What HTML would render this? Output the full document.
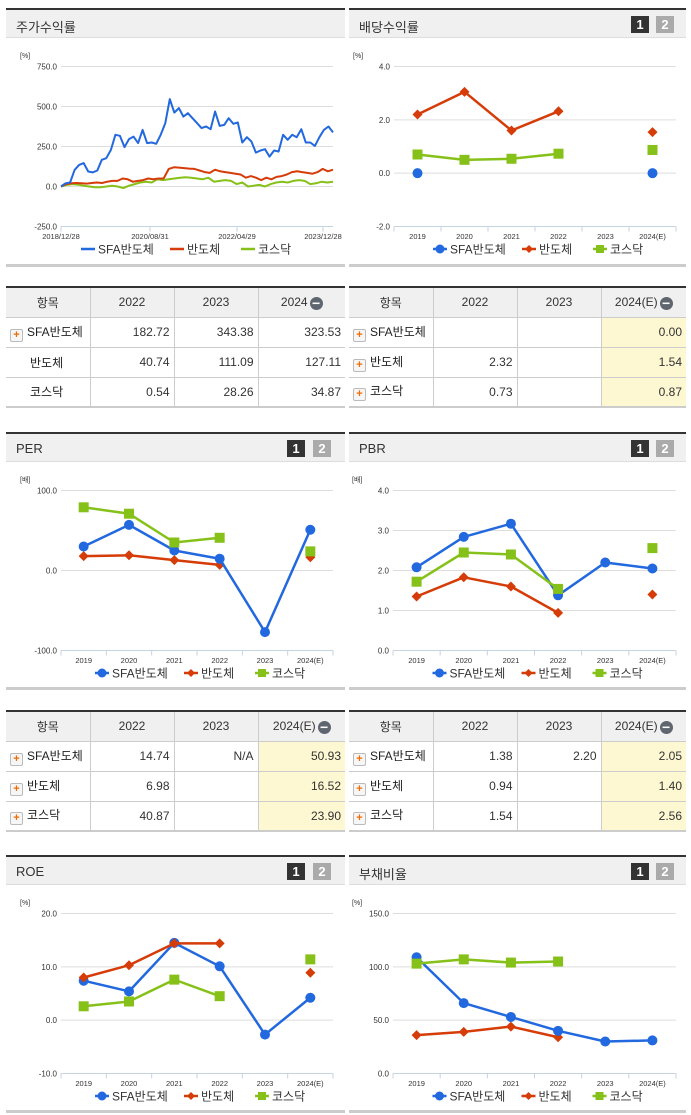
<!DOCTYPE html>
<html><head><meta charset="utf-8">
<style>
body{margin:0;width:691px;height:1115px;background:#fff;position:relative;overflow:hidden;font-family:"Liberation Sans","Noto Sans CJK KR",sans-serif;color:#222}
.hdr{position:absolute;height:30px;background:#f0f0f0;border-top:2px solid #333;border-bottom:1px solid #ddd;box-sizing:border-box}
.hdr .t{position:absolute;left:10px;top:7px;font-size:13px;color:#333}
.b1,.b2{position:absolute;top:6px;width:18px;height:17px;color:#fff;font-weight:bold;font-size:13px;text-align:center;line-height:17px}
.b1{background:#333}.b2{background:#aaa}
.bot{position:absolute;height:3px;background:#ccc}
table{position:absolute;border-collapse:collapse;font-size:12px;table-layout:fixed;border-top:2px solid #333;border-bottom:2px solid #ccc}
td,th{border:1px solid #ccc;height:30px;padding:0 4px;box-sizing:border-box}
tr td:first-child,tr th:first-child{border-left:none}
tr td:last-child,tr th:last-child{border-right:none}
th{background:#f0f0f0;font-weight:normal;color:#333;text-align:center}
td{text-align:right;color:#333}
td.n{text-align:left;color:#222}
.y{background:#fdf7d2}
.p{display:inline-block;width:11px;height:11px;border:1px solid #bbb;background:#f6f6f6;color:#f26a00;font-size:11px;line-height:10px;text-align:center;font-weight:bold;vertical-align:-2px;margin-right:4px;border-radius:2px}
.m{display:inline-block;width:13px;height:13px;border-radius:50%;background:#5f6670;color:#fff;line-height:12px;font-size:14px;font-weight:bold;vertical-align:-2px;margin-left:2px}
svg{position:absolute;left:0;top:0}
</style></head><body>

<div class="hdr" style="left:6px;top:8px;width:339px"><span class="t">주가수익률</span></div>
<div class="hdr" style="left:349px;top:8px;width:337px"><span class="t">배당수익률</span><span class="b1" style="left:282px">1</span><span class="b2" style="left:307px">2</span></div>
<div class="hdr" style="left:6px;top:432px;width:339px"><span class="t">PER</span><span class="b1" style="left:281px">1</span><span class="b2" style="left:307px">2</span></div>
<div class="hdr" style="left:349px;top:432px;width:337px"><span class="t">PBR</span><span class="b1" style="left:282px">1</span><span class="b2" style="left:307px">2</span></div>
<div class="hdr" style="left:6px;top:855px;width:339px"><span class="t">ROE</span><span class="b1" style="left:281px">1</span><span class="b2" style="left:307px">2</span></div>
<div class="hdr" style="left:349px;top:855px;width:337px"><span class="t">부채비율</span><span class="b1" style="left:282px">1</span><span class="b2" style="left:307px">2</span></div>

<div class="bot" style="left:6px;top:264px;width:339px"></div>
<div class="bot" style="left:349px;top:264px;width:337px"></div>
<div class="bot" style="left:6px;top:687px;width:339px"></div>
<div class="bot" style="left:349px;top:687px;width:337px"></div>
<div class="bot" style="left:6px;top:1110px;width:339px"></div>
<div class="bot" style="left:349px;top:1110px;width:337px"></div>

<table style="left:6px;top:286px;width:339px">
<colgroup><col style="width:84px"><col style="width:84px"><col style="width:84px"><col></colgroup>
<tr><th>항목</th><th>2022</th><th>2023</th><th>2024<span class="m">−</span></th></tr>
<tr><td class="n"><span class="p">+</span>SFA반도체</td><td>182.72</td><td>343.38</td><td>323.53</td></tr>
<tr><td class="n" style="padding-left:24px">반도체</td><td>40.74</td><td>111.09</td><td>127.11</td></tr>
<tr><td class="n" style="padding-left:24px">코스닥</td><td>0.54</td><td>28.26</td><td>34.87</td></tr>
</table>
<table style="left:349px;top:286px;width:337px">
<colgroup><col style="width:84px"><col style="width:84px"><col style="width:84px"><col></colgroup>
<tr><th>항목</th><th>2022</th><th>2023</th><th>2024(E)<span class="m">−</span></th></tr>
<tr><td class="n"><span class="p">+</span>SFA반도체</td><td></td><td></td><td class="y">0.00</td></tr>
<tr><td class="n"><span class="p">+</span>반도체</td><td>2.32</td><td></td><td class="y">1.54</td></tr>
<tr><td class="n"><span class="p">+</span>코스닥</td><td>0.73</td><td></td><td class="y">0.87</td></tr>
</table>
<table style="left:6px;top:710px;width:339px">
<colgroup><col style="width:84px"><col style="width:84px"><col style="width:84px"><col></colgroup>
<tr><th>항목</th><th>2022</th><th>2023</th><th>2024(E)<span class="m">−</span></th></tr>
<tr><td class="n"><span class="p">+</span>SFA반도체</td><td>14.74</td><td>N/A</td><td class="y">50.93</td></tr>
<tr><td class="n"><span class="p">+</span>반도체</td><td>6.98</td><td></td><td class="y">16.52</td></tr>
<tr><td class="n"><span class="p">+</span>코스닥</td><td>40.87</td><td></td><td class="y">23.90</td></tr>
</table>
<table style="left:349px;top:710px;width:337px">
<colgroup><col style="width:84px"><col style="width:84px"><col style="width:84px"><col></colgroup>
<tr><th>항목</th><th>2022</th><th>2023</th><th>2024(E)<span class="m">−</span></th></tr>
<tr><td class="n"><span class="p">+</span>SFA반도체</td><td>1.38</td><td>2.20</td><td class="y">2.05</td></tr>
<tr><td class="n"><span class="p">+</span>반도체</td><td>0.94</td><td></td><td class="y">1.40</td></tr>
<tr><td class="n"><span class="p">+</span>코스닥</td><td>1.54</td><td></td><td class="y">2.56</td></tr>
</table>

<svg id="s" width="691" height="1115"></svg>

<script>
// --- stock return (time series) ---
const tsLabels = ["2018/12/28","2020/08/31","2022/04/29","2023/12/28"];
const tsSfa = [0,20,25,104,135,146,94,88,100,167,177,229,323,317,246,296,312,271,354,271,275,267,323,396,546,462,490,437,458,427,396,365,375,358,469,379,385,427,392,400,275,308,281,212,225,233,187,225,219,323,292,323,308,358,275,275,254,308,354,375,338];
const tsSemi = [0,15,20,22,20,18,22,25,22,30,35,35,50,45,30,35,40,50,45,50,50,110,120,118,115,112,110,100,90,85,105,95,90,85,80,75,55,65,55,40,55,45,60,65,75,90,95,90,85,80,90,110,95,105];
const tsKosdaq = [0,10,15,12,5,0,-5,-5,0,5,0,-10,5,15,25,30,25,45,40,45,50,55,58,55,50,45,55,30,35,40,35,15,25,0,5,10,0,15,25,30,25,35,40,35,15,20,30,25,30];
// --- category charts ---
const years = ["2019","2020","2021","2022","2023","2024(E)"];
const divSfa = [0,null,null,null,null,0];
const divSemi = [2.2,3.05,1.6,2.32,null,1.54];
const divKosdaq = [0.7,0.5,0.54,0.73,null,0.87];
const perSfa = [30,57,25,14.74,-77,50.93];
const perSemi = [18,19,13,6.98,null,16.52];
const perKosdaq = [79,71,35,40.87,null,23.9];
const pbrSfa = [2.08,2.84,3.17,1.38,2.2,2.05];
const pbrSemi = [1.35,1.83,1.6,0.94,null,1.4];
const pbrKosdaq = [1.72,2.45,2.4,1.54,null,2.56];
const roeSfa = [7.4,5.4,14.5,10.1,-2.7,4.2];
const roeSemi = [8,10.3,14.4,14.4,null,8.9];
const roeKosdaq = [2.6,3.5,7.6,4.5,null,11.4];
const debtSfa = [109,66,53,40,30,31];
const debtSemi = [36,39,44,34,null,null];
const debtKosdaq = [103,107,104,105,null,null];
const ticksStock = [750,500,250,0,-250];
const ticksDiv = [4,2,0,-2];
const ticksPer = [100,0,-100];
const ticksPbr = [4,3,2,1,0];
const ticksRoe = [20,10,0,-10];
const ticksDebt = [150,100,50,0];

const NS="http://www.w3.org/2000/svg";
const svg=document.getElementById('s');
const C={b:"#2268de",r:"#d53c08",g:"#86c11a"};
function el(t,a,p){const e=document.createElementNS(NS,t);for(const k in a)e.setAttribute(k,a[k]);(p||svg).appendChild(e);return e;}
function txt(x,y,s,a){const e=el('text',Object.assign({x:x,y:y,'font-size':8,fill:'#333','font-family':'Liberation Sans, Noto Sans CJK KR, sans-serif'},a||{}));e.textContent=s;return e;}

function frame(L,R,y0,ticks,unit){
  const top=y0+58.5,bot=y0+218.5;
  const mn=ticks[ticks.length-1],mx=ticks[0];
  const ys=v=>bot-(v-mn)/(mx-mn)*(bot-top);
  txt(L-46+5,y0+50,unit,{'font-size':7});
  ticks.forEach(t=>{
    const g=el('line',{x1:L,x2:R,y1:ys(t),y2:ys(t),stroke:t===mn?'#c5d3e2':'#dddddd','stroke-width':1});
    
    
    const l=txt(L-4,ys(t)+3,t.toFixed(1),{'text-anchor':'end'});
    
    
  });
  el('line',{x1:L,x2:L,y1:bot,y2:bot+5,stroke:'#c5d3e2'});
  return ys;
}
function marker(k,x,y){
  let m;
  if(k==='b')m=el('circle',{cx:x,cy:y,r:5,fill:C.b});
  else if(k==='r')m=el('path',{d:`M${x} ${y-5}L${x+5} ${y}L${x} ${y+5}L${x-5} ${y}Z`,fill:C.r});
  else m=el('rect',{x:x-5,y:y-5,width:10,height:10,fill:C.g});
  
  
}
function legend(cx,y,mk){
  const items=[['b','SFA반도체',62],['r','반도체',44],['g','코스닥',44]];
  let x=cx-94;
  items.forEach(([k,s,w])=>{
    el('line',{x1:x,x2:x+14,y1:y,y2:y,stroke:C[k],'stroke-width':2.5});
    if(mk){ if(k==='b')el('circle',{cx:x+7,cy:y,r:4.5,fill:C.b});else if(k==='r')el('path',{d:`M${x+7} ${y-4}L${x+11} ${y}L${x+7} ${y+4}L${x+3} ${y}Z`,fill:C.r});else el('rect',{x:x+3,y:y-4,width:8,height:8,fill:C.g});}
    const t=txt(x+17,y+4.5,s,{'font-size':12});
    
    
    x+=17+w+10;
  });
}
function catChart(L,R,y0,ticks,unit,series){
  const ys=frame(L,R,y0,ticks,unit);
  const bot=y0+218.5,step=(R-L)/years.length;
  const xs=i=>L+step*(i+0.5);
  for(let i=0;i<=years.length;i++)el('line',{x1:L+step*i,x2:L+step*i,y1:bot,y2:bot+5,stroke:'#c5d3e2'});
  years.forEach((yv,i)=>{const t=txt(xs(i),y0+231,yv,{'text-anchor':'middle','font-size':7.5});
    
    });
  series.forEach(([k,arr])=>{
    let d='',prev=false;
    arr.forEach((v,i)=>{ if(v==null){prev=false;return;} d+=(prev?'L':'M')+xs(i)+' '+ys(v); prev=true; });
    // don't connect across a gap: path segments only join consecutive non-null
    const p=el('path',{d:d,fill:'none',stroke:C[k],'stroke-width':2.5,'stroke-linejoin':'round'});
    
    
    arr.forEach((v,i)=>{if(v!=null)marker(k,xs(i),ys(v));});
  });
  legend((L+R)/2-8,y0+241,true);
}
// stock chart
(function(){
  const L=61,R=333,y0=8;
  const ys=frame(L,R,y0,ticksStock,'[%]');
  const bot=y0+218.5;
  const tx=[61,150,237,323];
  tsLabels.forEach((s,i)=>{el('line',{x1:tx[i],x2:tx[i],y1:bot,y2:bot+5,stroke:'#c5d3e2'});
    const t=txt(tx[i],y0+231,s,{'text-anchor':'middle','font-size':7.5});
    
    });
  [['g',tsKosdaq],['r',tsSemi],['b',tsSfa]].forEach(([k,arr])=>{
    const n=arr.length;let d='';
    arr.forEach((v,i)=>{d+=(i?'L':'M')+(L+(R-L)*i/(n-1)).toFixed(1)+' '+ys(v).toFixed(1);});
    const p=el('path',{d:d,fill:'none',stroke:C[k],'stroke-width':2,'stroke-linejoin':'round'});
    
    
  });
  legend(175,y0+241,false);
})();
catChart(394,676,8,ticksDiv,'[%]',[['r',divSemi],['g',divKosdaq],['b',divSfa]]);
catChart(61,333,432,ticksPer,'[배]',[['r',perSemi],['b',perSfa],['g',perKosdaq]]);
catChart(393,676,432,ticksPbr,'[배]',[['r',pbrSemi],['b',pbrSfa],['g',pbrKosdaq]]);
catChart(61,333,855,ticksRoe,'[%]',[['b',roeSfa],['r',roeSemi],['g',roeKosdaq]]);
catChart(393,676,855,ticksDebt,'[%]',[['r',debtSemi],['b',debtSfa],['g',debtKosdaq]]);
</script>
</body></html>
